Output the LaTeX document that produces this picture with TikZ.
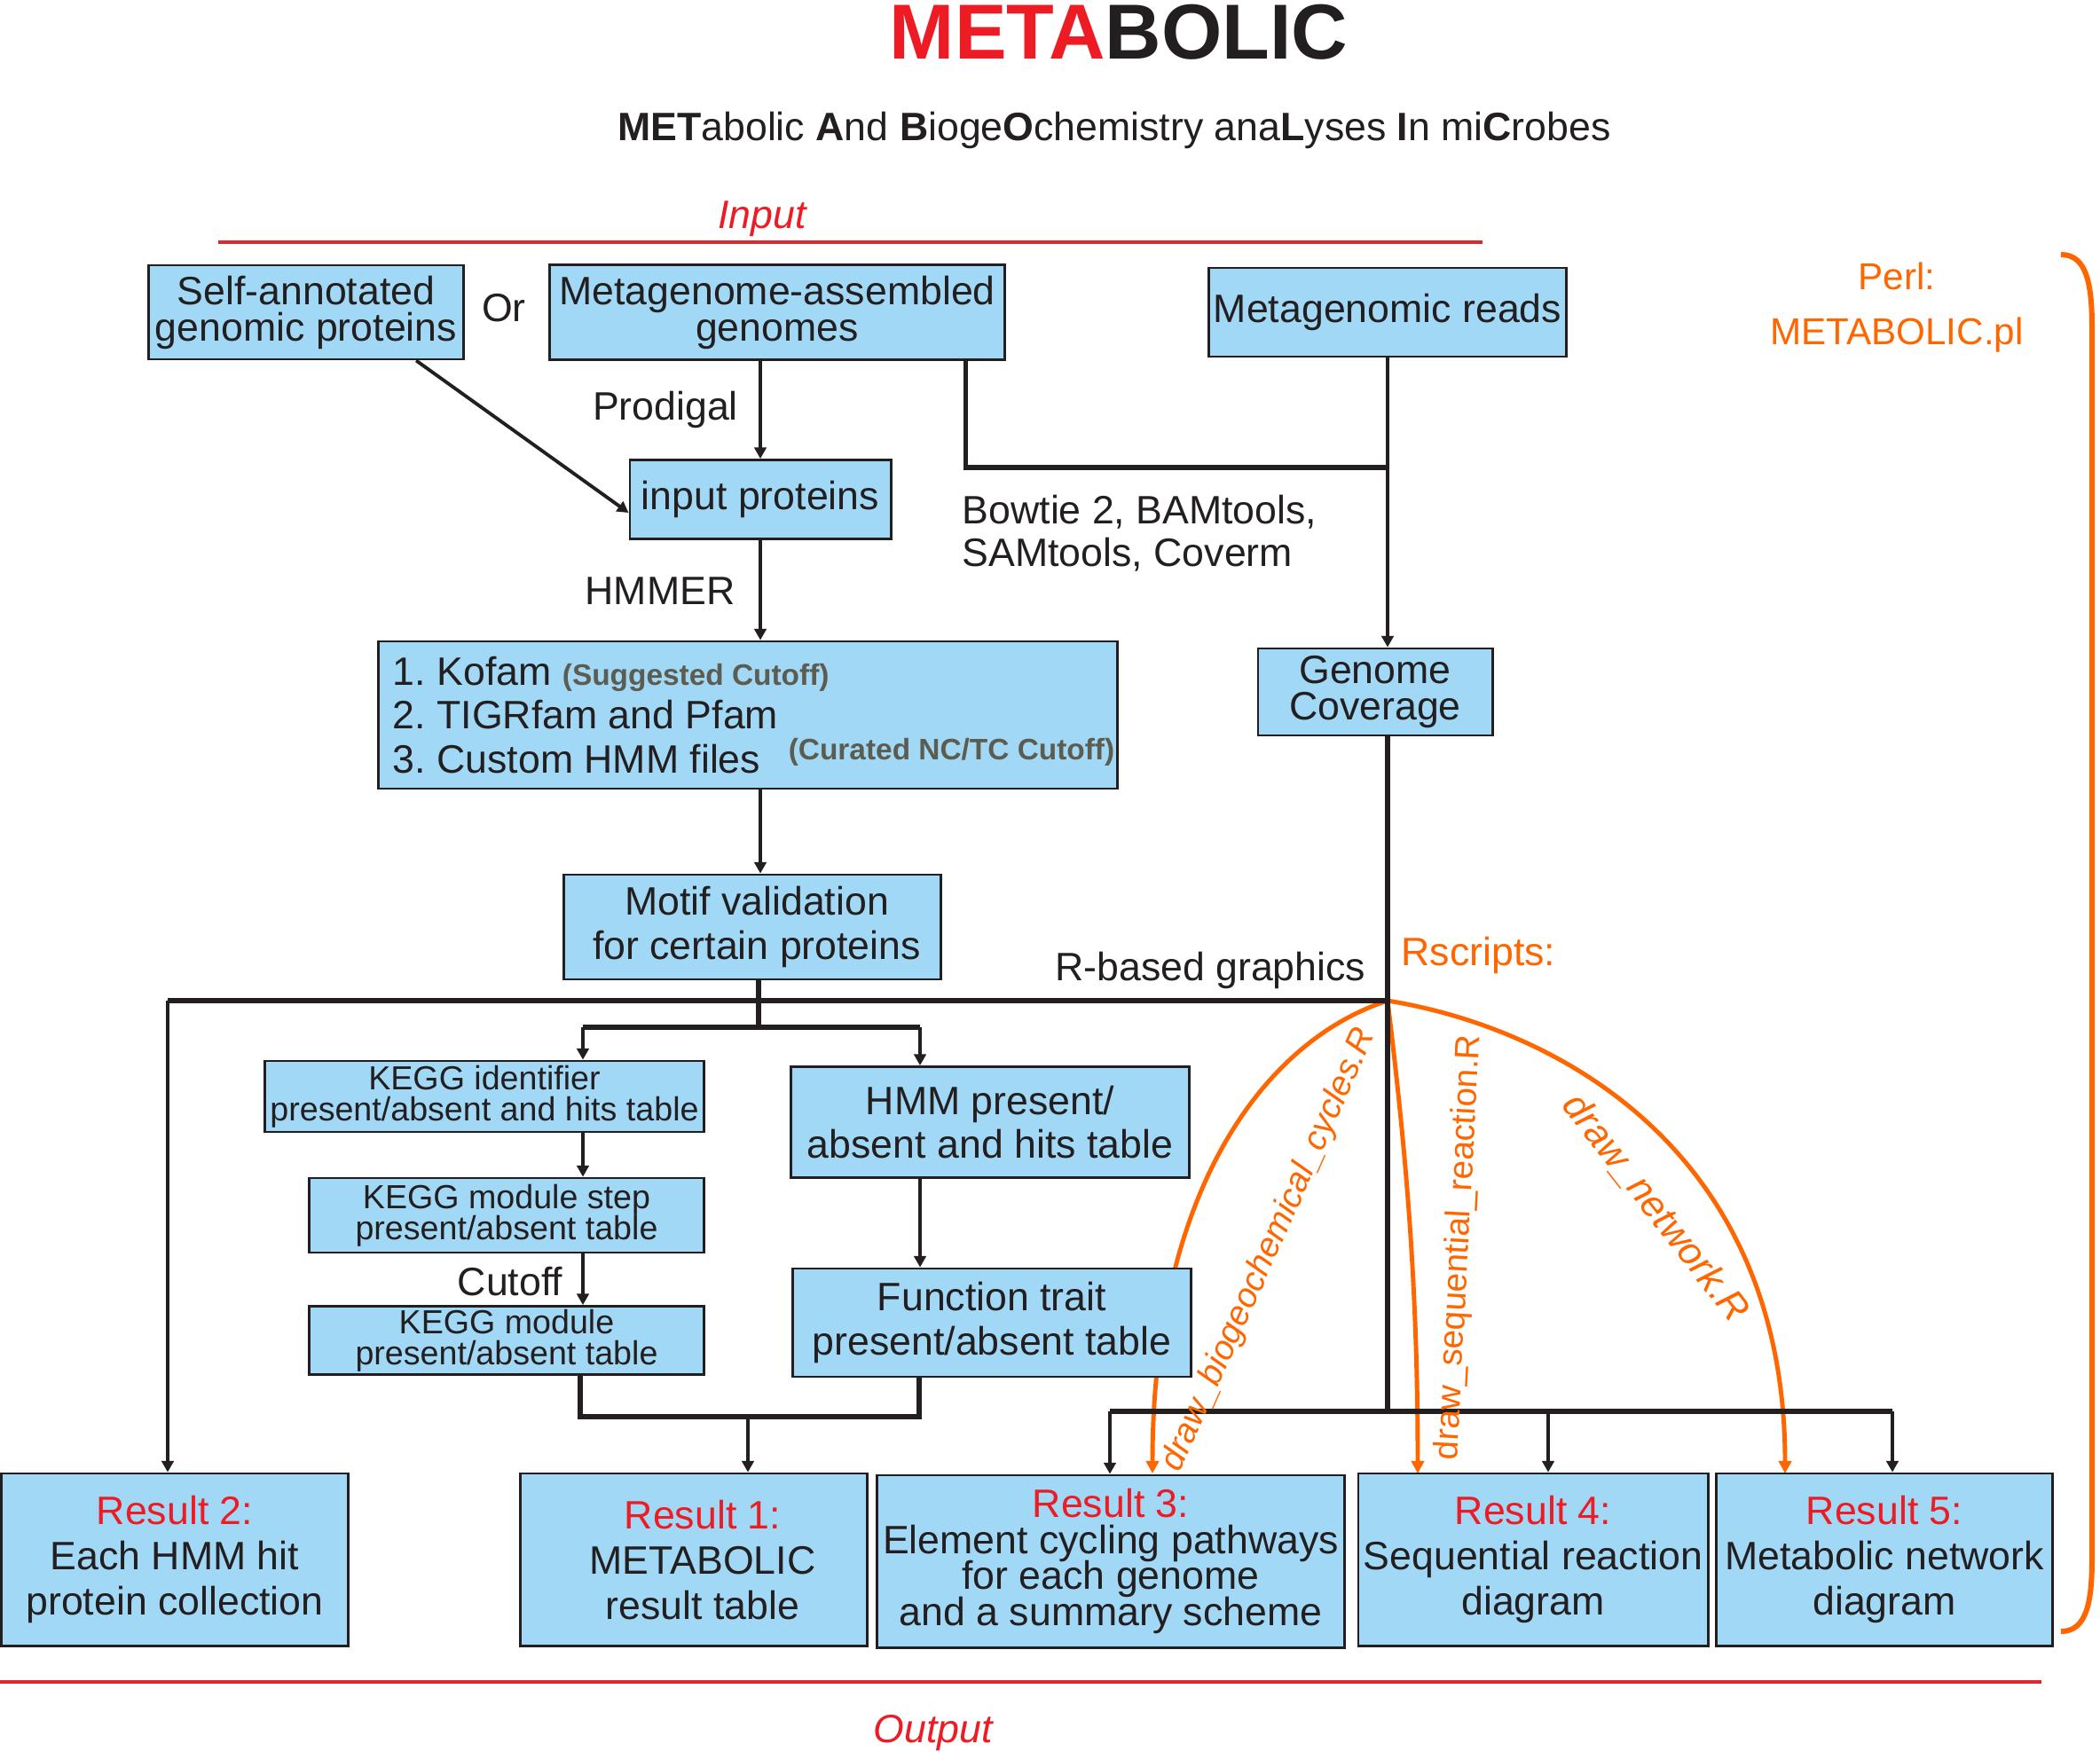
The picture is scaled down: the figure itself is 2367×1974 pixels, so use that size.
\documentclass[tikz,border=0pt]{standalone}
\usepackage{fontspec}
\setmainfont{Liberation Sans}
\usetikzlibrary{arrows.meta, backgrounds}
\definecolor{ink}{RGB}{35,31,32}
\definecolor{boxblue}{RGB}{160,216,245}
\definecolor{metared}{RGB}{237,28,36}
\definecolor{rulered}{RGB}{218,41,47}
\definecolor{scriptorange}{RGB}{255,102,0}
\definecolor{cutgray}{RGB}{92,92,80}
\newcommand{\cutnote}[1]{{\fontsize{9.5}{11}\selectfont\bfseries\color{cutgray}#1}}
\newcommand{\tightlines}{\lineskiplimit=-20pt\lineskip=0pt}

\begin{document}
\begin{tikzpicture}[
  x=0.01cm, y=-0.01cm,
  every node/.style={text=ink, inner sep=0pt, font={\fontsize{12.7}{14.2}\selectfont}},
  box/.style={draw=ink, line width=0.8pt, fill=boxblue, align=center,
              font={\fontsize{12.7}{11.7}\selectfont\tightlines}},
  wide/.style={box, font={\fontsize{12.7}{14.2}\selectfont\tightlines}},
  kegg/.style={box, font={\fontsize{10.7}{10}\selectfont\tightlines}},
  result/.style={wide, minimum height=1.94cm, font={\fontsize{12.7}{14.5}\selectfont\tightlines}},
  arr/.style={draw=ink, line width=1pt, -{Triangle[length=3.6pt,width=3.8pt]}},
  bus/.style={draw=ink, line width=1.5pt},
  script/.style={draw=scriptorange, line width=1.4pt, -{Triangle[length=4pt,width=4pt]}},
  scriptlabel/.style={text=scriptorange, font={\fontsize{11}{13}\selectfont\itshape}},
  rule/.style={draw=rulered, line width=1pt},
  redtitle/.style={text=metared, font={\fontsize{12.7}{14.2}\selectfont\itshape}}
]
\useasboundingbox (0,0) rectangle (2367,1974);

% title
\node[font={\fontsize{25}{30}\selectfont\bfseries}] (title) at (1261,36) {\textcolor{metared}{META}BOLIC};
\node[anchor=base] (subtitle) at (1256,158) {\textbf{MET}abolic \textbf{A}nd \textbf{B}ioge\textbf{O}chemistry ana\textbf{L}yses \textbf{I}n mi\textbf{C}robes};

% input part
\node[redtitle, anchor=base] (input) at (859,257) {Input};
\draw[rule] (246,273) -- (1671,273);

\node[box, minimum width=3.54cm, minimum height=1.06cm] (selfprot) at (345,352) {Self-annotated\\genomic proteins};
\node (or) at (568,347) {Or};
\node[box, minimum width=5.12cm, minimum height=1.07cm] (mags) at (876,352) {Metagenome-assembled\\genomes};
\node[box, minimum width=4.02cm, minimum height=1.0cm] (reads) at (1564,352) {Metagenomic reads};
\node[box, minimum width=2.94cm, minimum height=0.89cm] (inprot) at (857,563) {input proteins};
\node (prodigal) at (750,462) {Prodigal};
\node[anchor=west, align=left, font={\fontsize{12.7}{13.7}\selectfont}] (mapping) at (1084,601) {Bowtie 2, BAMtools,\\SAMtools, Coverm};
\node (hmmer) at (744,666) {HMMER};

\node[wide, align=flush left, text width=8.0cm, inner xsep=0.16cm, minimum width=8.32cm, minimum height=1.66cm,
      font={\fontsize{12.7}{14.2}\selectfont\tightlines\frenchspacing}] (hmmdb) at (843,806)
  {1. Kofam \cutnote{(Suggested Cutoff)}\\
   2. TIGRfam and Pfam\\
   3. Custom HMM files\hfill\raisebox{4.3pt}{\cutnote{(Curated NC/TC Cutoff)}}\hspace*{-0.13cm}};
\node[box, minimum width=2.64cm, minimum height=0.98cm] (cov) at (1550,780) {Genome\\Coverage};
\node[wide, minimum width=4.24cm, minimum height=1.18cm] (motif) at (848,1045) {\hspace*{0.1cm}Motif validation\\\hspace*{0.1cm}for certain proteins};

\node[anchor=east] (rgraph) at (1540,1094) {R-based graphics};
\node[anchor=west, text=scriptorange] (rscripts) at (1579,1077) {Rscripts:};
\node[text=scriptorange, align=center, font={\fontsize{12}{17.6}\selectfont}] (perl) at (2138,347) {Perl:\\METABOLIC.pl};

% tables
\node[kegg, minimum width=4.94cm, minimum height=0.80cm] (keggid) at (546,1236) {KEGG identifier\\present/absent and hits table};
\node[kegg, minimum width=4.44cm, minimum height=0.84cm] (keggstep) at (571,1370) {KEGG module step\\present/absent table};
\node[kegg, minimum width=4.44cm, minimum height=0.77cm] (keggmod) at (571,1511) {KEGG module\\present/absent table};
\node (cutoff) at (575,1445) {Cutoff};

% script curves go behind the boxes
\coordinate (jr) at (1564,1128);
\begin{pgfonlayer}{background}
\draw[script] (jr) .. controls (1420,1175) and (1299,1350) .. (1299,1661);
\draw[script] (jr) .. controls (1585,1300) and (1598,1450) .. (1598,1661);
\draw[script] (jr) .. controls (1760,1160) and (2012,1300) .. (2012,1661);
\end{pgfonlayer}

\node[wide, minimum width=4.49cm, minimum height=1.25cm] (hmmtab) at (1116,1265) {HMM present/\\absent and hits table};
\node[wide, minimum width=4.48cm, minimum height=1.22cm] (trait) at (1118,1491) {Function trait\\present/absent table};

% results
\node[result, minimum width=3.90cm] (res2) at (197,1758) {\textcolor{metared}{Result 2:}\\Each HMM hit\\protein collection};
\node[result, minimum width=3.91cm] (res1) at (782,1758) {\hspace*{0.2cm}\textcolor{metared}{Result 1:}\\\hspace*{0.2cm}METABOLIC\\\hspace*{0.2cm}result table};
\node[result, minimum width=5.27cm, font={\fontsize{12.7}{11.6}\selectfont\tightlines}] (res3) at (1252,1760) {\textcolor{metared}{Result 3:}\\Element cycling pathways\\for each genome\\and a summary scheme};
\node[result, minimum width=3.94cm] (res4) at (1728,1758) {\textcolor{metared}{Result 4:}\\Sequential reaction\\diagram};
\node[result, minimum width=3.79cm] (res5) at (2124,1758) {\textcolor{metared}{Result 5:}\\Metabolic network\\diagram};

\draw[rule] (0,1896) -- (2301,1896);
\node[redtitle] (output) at (1052,1953) {Output};

% perl bracket
\draw[draw=scriptorange, line width=1.7pt] (2323,287) .. controls (2352,287) and (2358,320) .. (2358,370)
  -- (2358,1756) .. controls (2358,1806) and (2352,1839) .. (2323,1839);

% junctions
\coordinate (jtop) at (1564,527);
\coordinate (jl) at (189,1128);
\coordinate (jb) at (1564,1591);
\coordinate (jm) at (855,1158);
\coordinate (bl) at (657,1158);
\coordinate (br) at (1037,1158);
\coordinate (ml) at (654,1597);
\coordinate (mr) at (1036,1597);
\coordinate (mm) at (843,1597);
\coordinate (b3) at (1251,1591);
\coordinate (b4) at (1745,1591);
\coordinate (b5) at (2133,1591);

% input connectors
\draw[arr, line width=1.1pt] ([xshift=1.24cm]selfprot.south) -- ([yshift=-0.15cm]inprot.west);
\draw[arr] (mags.south -| inprot.north) -- (inprot.north);
\draw[bus] ([xshift=-0.45cm]mags.south east) |- (jtop);
\draw[arr] (reads.south) -- (reads.south |- cov.north);
\draw[arr] (inprot.south) -- (inprot.south |- hmmdb.north);
\draw[arr] (inprot.south |- hmmdb.south) -- (inprot.south |- motif.north);

% R-based graphics
\draw[bus] (reads.south |- cov.south) -- (jb);
\draw[bus] (jr) -- (jl);
\draw[arr] (jl) -- (jl |- res2.north);
\draw[bus] (jm |- motif.south) -- (jm);
\draw[bus] (bl) -- (br);
\draw[arr] (bl) -- (bl |- keggid.north);
\draw[arr] (br) -- (br |- hmmtab.north);
\draw[arr] (bl |- keggid.south) -- (bl |- keggstep.north);
\draw[arr] (bl |- keggstep.south) -- (bl |- keggmod.north);
\draw[arr] (br |- hmmtab.south) -- (br |- trait.north);
\draw[bus] (ml |- keggmod.south) -- (ml) -- (mr) -- (mr |- trait.south);
\draw[arr] (mm) -- (mm |- res1.north);
\draw[bus] (b3) -- (b5);
\draw[arr] (b3) -- (b3 |- res3.north);
\draw[arr] (b4) -- (b4 |- res4.north);
\draw[arr] (b5) -- (b5 |- res5.north);

% Rscripts labels
\node[scriptlabel, rotate=66] (biolab) at (1431,1409) {draw\_biogeochemical\_cycles.R};
\node[scriptlabel, rotate=87, font={\fontsize{11}{13}\selectfont}] (seqlab) at (1645,1406) {draw\_sequential\_reaction.R};
\node[scriptlabel, rotate=-52, font={\fontsize{12.3}{14}\selectfont\itshape}] (netlab) at (1866,1362) {draw\_network.R};
\end{tikzpicture}
\end{document}
